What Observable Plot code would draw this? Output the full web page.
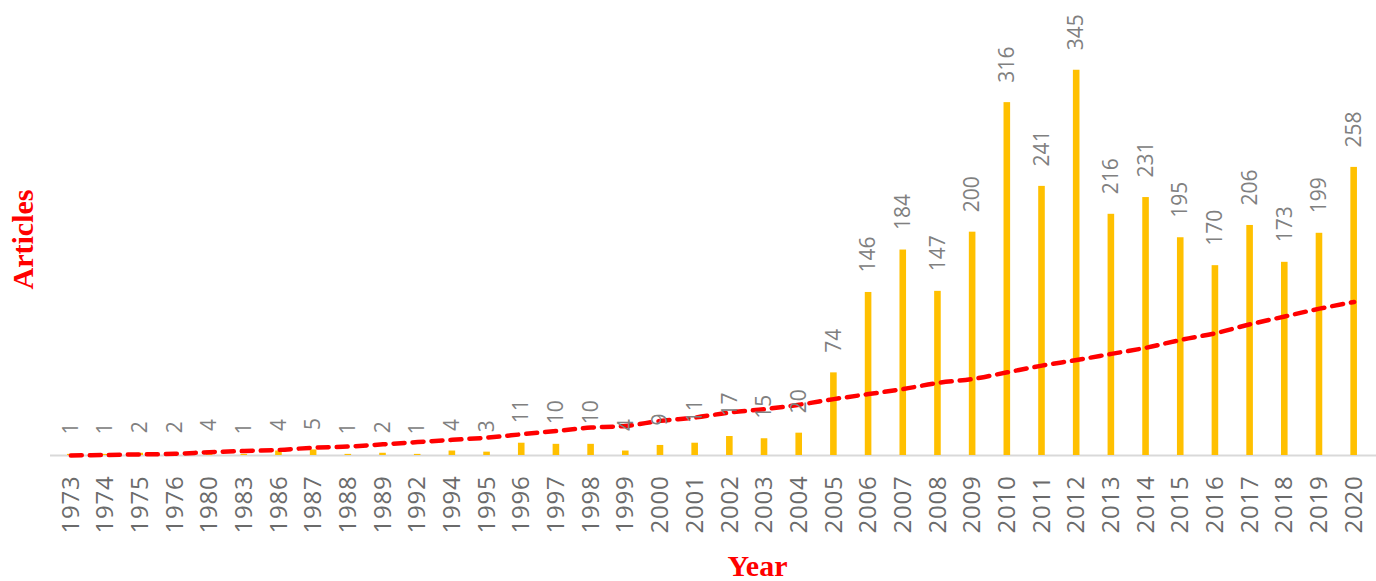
<!DOCTYPE html>
<html>
<head>
<meta charset="utf-8">
<script src="https://cdn.jsdelivr.net/npm/d3@7"></script>
<script src="https://cdn.jsdelivr.net/npm/@observablehq/plot@0.6"></script>
<style>
  html, body { margin: 0; padding: 0; background: #fff; }
  #chart { width: 1376px; height: 581px; }
  #chart g[aria-label="x-axis tick label"] text { letter-spacing: 0.8px; }
</style>
</head>
<body>
<div id="chart"></div>
<script>
const years = ["1973","1974","1975","1976","1980","1983","1986","1987","1988","1989","1992","1994","1995","1996","1997","1998","1999","2000","2001","2002","2003","2004","2005","2006","2007","2008","2009","2010","2011","2012","2013","2014","2015","2016","2017","2018","2019","2020"];
const articles = [1,1,2,2,4,1,4,5,1,2,1,4,3,11,10,10,4,9,11,17,15,20,74,146,184,147,200,316,241,345,216,231,195,170,206,173,199,258];
const trend = [0,0.5,1,1.5,3,4,5,7,8,10,12,14,16,19,22,25,26.5,31,34,38.5,41.5,45.5,50.5,55,59.5,65,68.5,74.5,80.5,85.5,91,96.5,103.5,109.5,117.5,124.5,131.5,137.5];

const data = years.map((y, i) => ({year: y, value: articles[i], trend: trend[i]}));

const chart = Plot.plot({
  width: 1376,
  height: 581,
  marginLeft: 53,
  marginRight: 5,
  marginTop: 53,
  marginBottom: 126,
  style: {fontFamily: "'Open Sans', sans-serif", background: "#fff"},
  x: {type: "band", domain: years, paddingInner: 0.81, paddingOuter: 0.405, round: false, label: null},
  y: {domain: [0, 360], axis: null},
  marks: [
    Plot.ruleY([0], {stroke: "#d9d9d9", strokeWidth: 2, insetLeft: -3, insetRight: -5}),
    Plot.barY(data, {x: "year", y: "value", fill: "#FFC000"}),
    Plot.line(data, {x: "year", y: "trend", stroke: "#ff0000", strokeWidth: 4.5, strokeDasharray: "11,8", strokeLinecap: "round", curve: "catmull-rom"}),
    Plot.text(data, {x: "year", y: "value", text: d => String(d.value), rotate: -90, textAnchor: "start", dy: -20, fill: "#808080", fontSize: 21}),
    Plot.axisX({tickRotate: -90, tickSize: 0, tickPadding: 20, fontSize: 24, color: "#6b6b6b", label: null}),
    Plot.text(["Year"], {frameAnchor: "bottom", dx: 45, dy: 120, fill: "#ff0000", fontWeight: "bold", fontFamily: "'Liberation Serif', 'Times New Roman', serif", fontSize: 30}),
    Plot.text(["Articles"], {frameAnchor: "left", textAnchor: "middle", dx: -30, dy: -15, rotate: -90, fill: "#ff0000", fontWeight: "bold", fontFamily: "'Liberation Serif', 'Times New Roman', serif", fontSize: 30})
  ]
});
document.getElementById("chart").appendChild(chart);
</script>
</body>
</html>
